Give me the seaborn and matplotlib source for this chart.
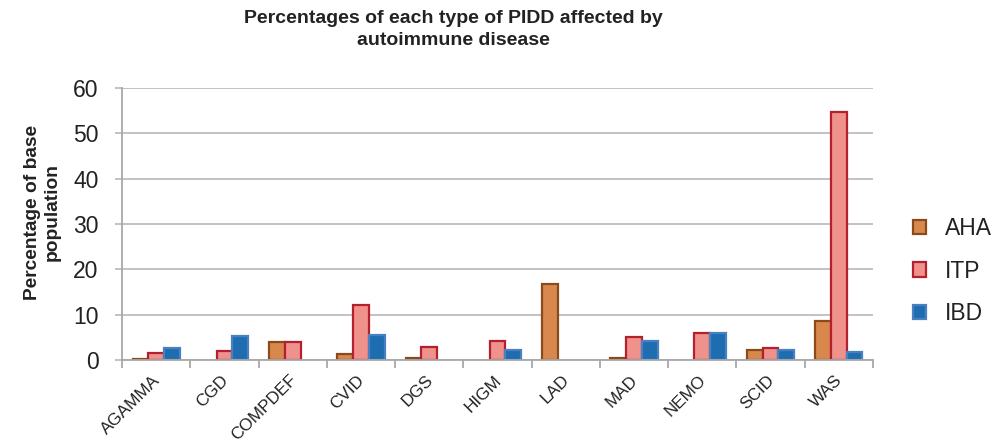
import matplotlib
matplotlib.use("Agg")
import matplotlib.pyplot as plt
from matplotlib.patches import Patch
from matplotlib.ticker import FixedLocator
from matplotlib.transforms import ScaledTranslation
import seaborn as sns
import pandas as pd
import numpy as np

# PIDD types and percentage of base population affected by each autoimmune disease
categories = ["AGAMMA", "CGD", "COMPDEF", "CVID", "DGS", "HIGM",
              "LAD", "MAD", "NEMO", "SCID", "WAS"]
aha = [0.3, 0.0, 4.0, 1.3, 0.4, 0.0, 16.8, 0.5, 0.0, 2.1, 8.7]
itp = [1.5, 1.9, 4.0, 12.2, 2.8, 4.1, 0.0, 5.0, 6.0, 2.7, 54.7]
ibd = [2.6, 5.2, 0.0, 5.5, 0.0, 2.1, 0.0, 4.1, 6.0, 2.1, 1.8]
series_names = ["AHA", "ITP", "IBD"]

fills = {"AHA": "#D9884D", "ITP": "#EF928C", "IBD": "#1F6DB1"}
edges = {"AHA": "#8B4A1C", "ITP": "#B5202E", "IBD": "#4A80C0"}

df = pd.DataFrame({
    "category": categories * 3,
    "value": aha + itp + ibd,
    "series": [s for s in series_names for _ in categories],
})

sns.set_theme(style="white")
plt.rcParams["font.family"] = ["Liberation Sans", "DejaVu Sans"]

fig = plt.figure(figsize=(10.05, 4.42), dpi=100)
ax = fig.add_axes([122 / 1005, 1 - 360 / 442, (873 - 122) / 1005, (360 - 88) / 442])

sns.barplot(data=df, x="category", y="value", hue="series",
            order=categories, hue_order=series_names,
            palette=fills, width=0.69, ax=ax, legend=False,
            linewidth=1.6, saturation=1)

# edge colours per series
for container, name in zip(ax.containers, series_names):
    for bar in container:
        bar.set_edgecolor(edges[name])
        bar.set_linewidth(1.6)
        if bar.get_height() == 0:
            bar.set_visible(False)

ax.set_xlim(-0.5, len(categories) - 0.5)
ax.set_ylim(0, 60)
ax.set_yticks(np.arange(0, 61, 10))
ax.yaxis.grid(True, color="#BDBDBD", linewidth=1.3)
ax.set_axisbelow(True)

for side in ["top", "right"]:
    ax.spines[side].set_visible(False)
for side in ["left", "bottom"]:
    ax.spines[side].set_color("#A8A8A8")
    ax.spines[side].set_linewidth(1.3)

ax.tick_params(axis="y", which="major", length=5, color="#BDBDBD", width=1.3,
               labelsize=16.5, pad=12, labelcolor="#222222", left=True)
ax.tick_params(axis="x", which="major", length=0, labelsize=12.3, pad=9,
               labelcolor="#222222")
ax.xaxis.set_minor_locator(FixedLocator(np.arange(-0.5, len(categories), 1.0)))
ax.tick_params(axis="x", which="minor", length=6, color="#A8A8A8", width=1.3,
               bottom=True)
shift = ScaledTranslation(-4 / 100, 0, fig.dpi_scale_trans)
for lbl in ax.get_xticklabels():
    lbl.set_rotation(45)
    lbl.set_ha("right")
    lbl.set_rotation_mode("anchor")
    lbl.set_transform(lbl.get_transform() + shift)

ax.set_xlabel("")
ax.set_ylabel("Percentage of base\npopulation", fontsize=13.8, fontweight="bold",
              color="#222222", linespacing=1.25)
ax.yaxis.set_label_coords(-61 / 751, 1 - (212 - 88) / 272)

fig.text(453 / 1005, 1 - 29.5 / 442,
         "Percentages of each type of PIDD affected by\nautoimmune disease",
         ha="center", va="center", fontsize=14, fontweight="bold",
         color="#222222", linespacing=1.4)

handles = [Patch(facecolor=fills[n], edgecolor=edges[n], linewidth=1.6, label=n)
           for n in series_names]
fig.legend(handles=handles, loc="center left",
           bbox_to_anchor=(892 / 1005, 1 - 271 / 442),
           frameon=False, fontsize=16.5, handlelength=0.6, handleheight=0.6,
           handletextpad=0.8, labelspacing=0.85, labelcolor="#222222")

fig.savefig("out.png", dpi=100)
